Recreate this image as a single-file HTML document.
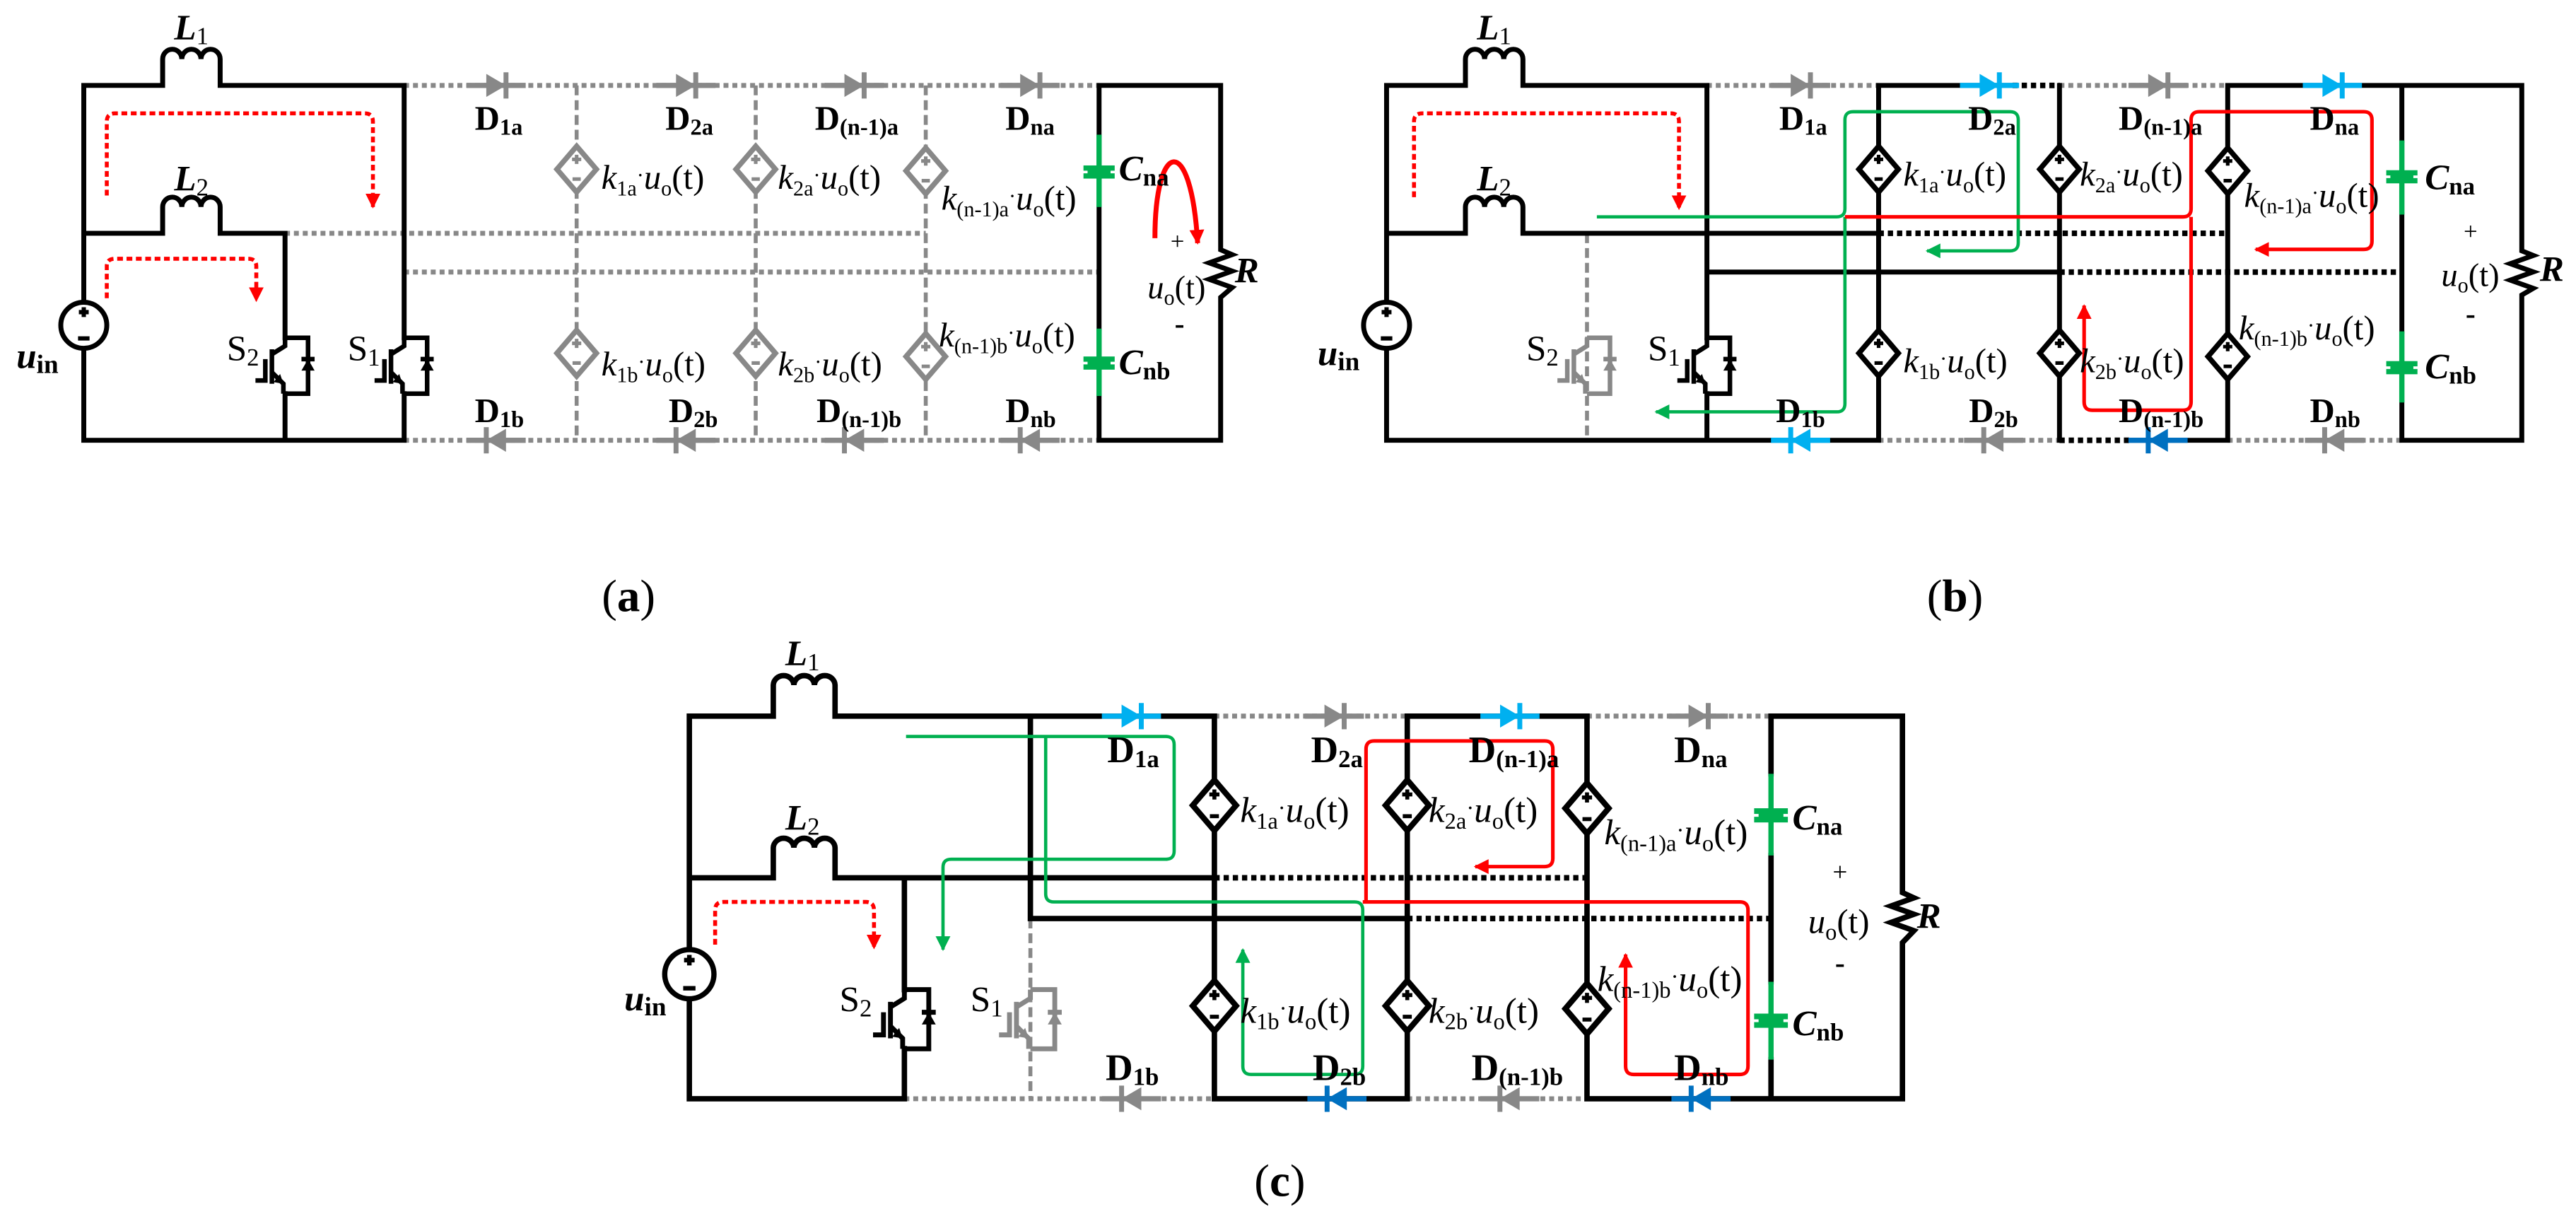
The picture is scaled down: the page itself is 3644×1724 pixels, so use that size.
<!DOCTYPE html>
<html><head><meta charset="utf-8">
<style>
html,body{margin:0;padding:0;background:#fff;}
svg{display:block;}
.w{stroke:#000;stroke-width:3;fill:none;stroke-linecap:square;}
.g{stroke:#00b050;stroke-width:3.2;fill:none;}
.gd{stroke:#888;stroke-width:3;fill:none;stroke-dasharray:3 2.4;}
.bd{stroke:#000;stroke-width:3.4;fill:none;stroke-dasharray:3.2 2.4;}
.gv{stroke:#888;stroke-width:2.4;fill:none;stroke-dasharray:6 3;}
.rd{stroke:#f00;stroke-width:2.4;fill:none;stroke-dasharray:3.5 2.2;}
.gp{stroke:#00b050;stroke-width:2;fill:none;}
.rp{stroke:#f00;stroke-width:2.2;fill:none;}
text{font-family:"Liberation Serif",serif;fill:#000;}
.d{font-weight:bold;font-size:21px;}
.dc{font-weight:bold;font-size:23px;}
.k{font-size:21px;}
.kc{font-size:22px;}
.bi{font-weight:bold;font-style:italic;font-size:22px;}
.s{font-size:22px;}
.cap{font-size:28px;}
</style></head>
<body>
<svg width="3644" height="1724" viewBox="0 0 1568 742" preserveAspectRatio="none" xmlns="http://www.w3.org/2000/svg">
<defs>
<g id="dr"><path d="M-18,0H18" stroke="currentColor" stroke-width="3.2"/><path d="M-6,-7L6,0L-6,7Z" fill="currentColor"/><path d="M6,-8V8" stroke="currentColor" stroke-width="3"/></g>
<g id="dl"><path d="M-18,0H18" stroke="currentColor" stroke-width="3.2"/><path d="M6,-7L-6,0L6,7Z" fill="currentColor"/><path d="M-6,-8V8" stroke="currentColor" stroke-width="3"/></g>
<g id="dm"><path d="M0,-14L12,0L0,14L-12,0Z" fill="#fff" stroke="currentColor" stroke-width="3.2"/><path d="M-2.8,-6H2.8M0,-8.8V-3.2M-2.5,6H2.5" stroke="currentColor" stroke-width="2.2"/></g>
<g id="sw"><g fill="none" stroke="currentColor" stroke-width="2.8"><path d="M0,-17V-12L-8,-7"/><path d="M-8,-10V11"/><path d="M-12,-4V9H-18"/><path d="M-8,4L-1,11V17"/><path d="M0,-17H14V17H0"/><path d="M10,-4H18"/></g><path d="M14,-4L10,3H18Z" fill="currentColor"/><path d="M-1,11L-7,10L-3,5Z" fill="currentColor"/></g>
<g id="src"><circle r="14" fill="#fff" stroke="#000" stroke-width="3"/><path d="M0,-11V-5M-3,-8H3M-3.5,8H3.5" stroke="#000" stroke-width="2.6"/></g>
<g id="cp"><rect x="-9.5" y="-4" width="19" height="3.2" fill="#00b050"/><rect x="-9.5" y="0.8" width="19" height="3.2" fill="#00b050"/><rect x="-7" y="-2" width="14" height="4" fill="#00b050"/></g>
<marker id="ar" viewBox="0 0 10 10" refX="9" refY="5" markerWidth="9" markerHeight="9" markerUnits="userSpaceOnUse" orient="auto"><path d="M0,0L10,5L0,10z" fill="#f00"/></marker>
<marker id="ag" viewBox="0 0 10 10" refX="9" refY="5" markerWidth="9" markerHeight="9" markerUnits="userSpaceOnUse" orient="auto"><path d="M0,0L10,5L0,10z" fill="#00b050"/></marker>
</defs>

<!-- ============ PANEL A ============ -->
<path class="gd" d="M246,52H669M173.5,142H563.5M246,165.6H669M246,268H669"/>
<path class="gv" d="M351,52V268M460,52V268M563.5,52V268"/>
<path class="w" d="M51,52H99V36a5.83,6 0 0 1 11.67,0a5.83,6 0 0 1 11.67,0a5.83,6 0 0 1 11.67,0V52H246M51,52V268H246M51,142H99V126a5.83,6 0 0 1 11.67,0a5.83,6 0 0 1 11.67,0a5.83,6 0 0 1 11.67,0V142H173.5M173.5,142V205.6M173.5,239.6V268M246,52V205.6M246,239.6V268M669,52H743V152L750,155L736,160L750,165L736,170L750,175L743,181V268H669M669,52V82M669,126V200M669,241V268"/>
<path class="g" d="M669,82V126M669,200V241"/>
<use href="#cp" x="669" y="104.7"/><use href="#cp" x="669" y="221"/>
<g color="#888"><use href="#dr" x="302" y="52"/><use href="#dr" x="417.5" y="52"/><use href="#dr" x="520" y="52"/><use href="#dr" x="627" y="52"/>
<use href="#dl" x="302" y="268"/><use href="#dl" x="417.5" y="268"/><use href="#dl" x="520" y="268"/><use href="#dl" x="627" y="268"/></g>
<g color="#888"><use href="#dm" x="351" y="103"/><use href="#dm" x="460" y="103"/><use href="#dm" x="563.5" y="104"/>
<use href="#dm" x="351" y="215"/><use href="#dm" x="460" y="215"/><use href="#dm" x="563.5" y="217"/></g>
<g color="#000"><use href="#sw" x="173.5" y="222.6"/><use href="#sw" x="246" y="222.6"/></g>
<use href="#src" x="51" y="198"/>
<path class="rd" d="M65,119V74Q65,69 70,69H222Q227,69 227,74V126" marker-end="url(#ar)"/>
<path class="rd" d="M65,181.5V162Q65,157.5 70,157.5H151Q156,157.5 156,162V183" marker-end="url(#ar)"/>
<path d="M703,145C703,85 725,80 729,148" stroke="#f00" stroke-width="3" fill="none" marker-end="url(#ar)"/>
<text class="bi" x="106" y="24">L<tspan font-size="15" font-style="normal" font-weight="normal" dy="3">1</tspan></text>
<text class="bi" x="106" y="116">L<tspan font-size="15" font-style="normal" font-weight="normal" dy="3">2</tspan></text>
<text class="bi" x="10" y="224" font-size="26">u<tspan font-size="16" font-style="normal" dy="3">in</tspan></text>
<text class="s" x="138" y="219.5">S<tspan font-size="15" dy="3">2</tspan></text>
<text class="s" x="211.6" y="219.5">S<tspan font-size="15" dy="3">1</tspan></text>
<text class="d" x="289" y="79">D<tspan font-size="14" dy="3">1a</tspan></text>
<text class="d" x="405" y="79">D<tspan font-size="14" dy="3">2a</tspan></text>
<text class="d" x="496" y="79">D<tspan font-size="14" dy="3">(n-1)a</tspan></text>
<text class="d" x="612" y="79">D<tspan font-size="14" dy="3">na</tspan></text>
<text class="d" x="289" y="257">D<tspan font-size="14" dy="3">1b</tspan></text>
<text class="d" x="407" y="257">D<tspan font-size="14" dy="3">2b</tspan></text>
<text class="d" x="497" y="257">D<tspan font-size="14" dy="3">(n-1)b</tspan></text>
<text class="d" x="612" y="257">D<tspan font-size="14" dy="3">nb</tspan></text>
<text class="k" x="366" y="115"><tspan font-style="italic">k</tspan><tspan font-size="13" dy="4">1a</tspan><tspan font-size="13" dy="-8">·</tspan><tspan font-style="italic" dy="4">u</tspan><tspan font-size="13" dy="4">o</tspan><tspan dy="-4">(t)</tspan></text>
<text class="k" x="473.5" y="115"><tspan font-style="italic">k</tspan><tspan font-size="13" dy="4">2a</tspan><tspan font-size="13" dy="-8">·</tspan><tspan font-style="italic" dy="4">u</tspan><tspan font-size="13" dy="4">o</tspan><tspan dy="-4">(t)</tspan></text>
<text class="k" x="573" y="127.7"><tspan font-style="italic">k</tspan><tspan font-size="13" dy="4">(n-1)a</tspan><tspan font-size="13" dy="-8">·</tspan><tspan font-style="italic" dy="4">u</tspan><tspan font-size="13" dy="4">o</tspan><tspan dy="-4">(t)</tspan></text>
<text class="k" x="366" y="228.6"><tspan font-style="italic">k</tspan><tspan font-size="13" dy="4">1b</tspan><tspan font-size="13" dy="-8">·</tspan><tspan font-style="italic" dy="4">u</tspan><tspan font-size="13" dy="4">o</tspan><tspan dy="-4">(t)</tspan></text>
<text class="k" x="473.5" y="228.6"><tspan font-style="italic">k</tspan><tspan font-size="13" dy="4">2b</tspan><tspan font-size="13" dy="-8">·</tspan><tspan font-style="italic" dy="4">u</tspan><tspan font-size="13" dy="4">o</tspan><tspan dy="-4">(t)</tspan></text>
<text class="k" x="571.5" y="211"><tspan font-style="italic">k</tspan><tspan font-size="13" dy="4">(n-1)b</tspan><tspan font-size="13" dy="-8">·</tspan><tspan font-style="italic" dy="4">u</tspan><tspan font-size="13" dy="4">o</tspan><tspan dy="-4">(t)</tspan></text>
<text class="bi" x="681" y="110">C<tspan font-size="15" font-style="normal" dy="3">na</tspan></text>
<text class="bi" x="681" y="228">C<tspan font-size="15" font-style="normal" dy="3">nb</tspan></text>
<text x="716.7" y="152" font-size="15" text-anchor="middle">+</text>
<text x="698.5" y="181.6" font-size="20"><tspan font-style="italic">u</tspan><tspan font-size="13" dy="4">o</tspan><tspan dy="-4">(t)</tspan></text>
<text x="718" y="203" font-size="18" font-weight="bold" text-anchor="middle">-</text>
<text class="bi" x="751.6" y="172">R</text>
<text class="cap" x="382.6" y="372" text-anchor="middle">(<tspan font-weight="bold">a</tspan>)</text>

<!-- ============ PANEL B ============ -->
<path class="gd" d="M1039,52H1143.5M1253.6,52H1356M1143.5,268H1253.6M1356,268H1462"/>
<path class="bd" d="M1225,52H1253.6M1143.5,142H1356M1253.6,165.6H1462M1253.6,268H1296"/>
<path class="gv" d="M966,142V268"/>
<path class="w" d="M844,52H892V36a5.83,6 0 0 1 11.67,0a5.83,6 0 0 1 11.67,0a5.83,6 0 0 1 11.67,0V52H1039M1143.5,52H1225M1356,52H1535V152.7L1542,155.5L1528,160.5L1542,165.5L1528,170.5L1542,175.5L1535,179.6V268H1462M844,52V268H1143.5M844,142H892V126a5.83,6 0 0 1 11.67,0a5.83,6 0 0 1 11.67,0a5.83,6 0 0 1 11.67,0V142H1143.5M1039,165.6H1253.6M1296,268H1356M1039,52V205.6M1039,239.6V268M1143.5,52V268M1253.6,52V268M1356,52V268M1462,52V85.5M1462,130.6V201.7M1462,245V268"/>
<path class="g" d="M1462,85.5V130.6M1462,201.7V245"/>
<use href="#cp" x="1462" y="107.6"/><use href="#cp" x="1462" y="223.8"/>
<use href="#dr" x="1096" y="52" color="#888"/><use href="#dr" x="1211" y="52" color="#00b0f0"/><use href="#dr" x="1313.6" y="52" color="#888"/><use href="#dr" x="1419.7" y="52" color="#00b0f0"/>
<use href="#dl" x="1096" y="268" color="#00b0f0"/><use href="#dl" x="1213.5" y="268" color="#888"/><use href="#dl" x="1313.6" y="268" color="#0070c0"/><use href="#dl" x="1421" y="268" color="#888"/>
<g color="#000"><use href="#dm" x="1143.5" y="103"/><use href="#dm" x="1253.6" y="103"/><use href="#dm" x="1356" y="104"/>
<use href="#dm" x="1143.5" y="215"/><use href="#dm" x="1253.6" y="215"/><use href="#dm" x="1356" y="217"/>
<use href="#sw" x="1039" y="222.6"/></g>
<use href="#sw" x="966" y="222.6" color="#888"/>
<use href="#src" x="844" y="198"/>
<path class="rd" d="M860.7,120V74Q860.7,69 865.7,69H1017Q1022,69 1022,74V127" marker-end="url(#ar)"/>
<path class="gp" d="M972,132H1118Q1123,132 1123,127V73Q1123,68 1128,68H1223.5Q1228.5,68 1228.5,73V147.7Q1228.5,152.7 1223.5,152.7H1173" marker-end="url(#ag)"/>
<path class="gp" d="M1123,132V245.7Q1123,250.7 1118,250.7H1008" marker-end="url(#ag)"/>
<path class="rp" d="M1123,132H1328.7Q1333.7,132 1333.7,127V73Q1333.7,68 1338.7,68H1438.8Q1443.8,68 1443.8,73V146.8Q1443.8,151.8 1438.8,151.8H1373" marker-end="url(#ar)"/>
<path class="rp" d="M1333.7,132V244.7Q1333.7,249.7 1328.7,249.7H1273.6Q1268.6,249.7 1268.6,244.7V186" marker-end="url(#ar)"/>
<text class="bi" x="899" y="24">L<tspan font-size="15" font-style="normal" font-weight="normal" dy="3">1</tspan></text>
<text class="bi" x="899" y="116">L<tspan font-size="15" font-style="normal" font-weight="normal" dy="3">2</tspan></text>
<text class="bi" x="802" y="222.3" font-size="26">u<tspan font-size="16" font-style="normal" dy="3">in</tspan></text>
<text class="s" x="929" y="219.5">S<tspan font-size="15" dy="3">2</tspan></text>
<text class="s" x="1003" y="219.5">S<tspan font-size="15" dy="3">1</tspan></text>
<text class="d" x="1083" y="79">D<tspan font-size="14" dy="3">1a</tspan></text>
<text class="d" x="1198" y="79">D<tspan font-size="14" dy="3">2a</tspan></text>
<text class="d" x="1289.6" y="79">D<tspan font-size="14" dy="3">(n-1)a</tspan></text>
<text class="d" x="1406" y="79">D<tspan font-size="14" dy="3">na</tspan></text>
<text class="d" x="1081" y="257">D<tspan font-size="14" dy="3">1b</tspan></text>
<text class="d" x="1198.5" y="257">D<tspan font-size="14" dy="3">2b</tspan></text>
<text class="d" x="1289.6" y="257">D<tspan font-size="14" dy="3">(n-1)b</tspan></text>
<text class="d" x="1406" y="257">D<tspan font-size="14" dy="3">nb</tspan></text>
<text class="k" x="1158.5" y="113"><tspan font-style="italic">k</tspan><tspan font-size="13" dy="4">1a</tspan><tspan font-size="13" dy="-8">·</tspan><tspan font-style="italic" dy="4">u</tspan><tspan font-size="13" dy="4">o</tspan><tspan dy="-4">(t)</tspan></text>
<text class="k" x="1266" y="113"><tspan font-style="italic">k</tspan><tspan font-size="13" dy="4">2a</tspan><tspan font-size="13" dy="-8">·</tspan><tspan font-style="italic" dy="4">u</tspan><tspan font-size="13" dy="4">o</tspan><tspan dy="-4">(t)</tspan></text>
<text class="k" x="1366" y="125.8"><tspan font-style="italic">k</tspan><tspan font-size="13" dy="4">(n-1)a</tspan><tspan font-size="13" dy="-8">·</tspan><tspan font-style="italic" dy="4">u</tspan><tspan font-size="13" dy="4">o</tspan><tspan dy="-4">(t)</tspan></text>
<text class="k" x="1158.5" y="226.7"><tspan font-style="italic">k</tspan><tspan font-size="13" dy="4">1b</tspan><tspan font-size="13" dy="-8">·</tspan><tspan font-style="italic" dy="4">u</tspan><tspan font-size="13" dy="4">o</tspan><tspan dy="-4">(t)</tspan></text>
<text class="k" x="1266" y="226.7"><tspan font-style="italic">k</tspan><tspan font-size="13" dy="4">2b</tspan><tspan font-size="13" dy="-8">·</tspan><tspan font-style="italic" dy="4">u</tspan><tspan font-size="13" dy="4">o</tspan><tspan dy="-4">(t)</tspan></text>
<text class="k" x="1362.7" y="206.5"><tspan font-style="italic">k</tspan><tspan font-size="13" dy="4">(n-1)b</tspan><tspan font-size="13" dy="-8">·</tspan><tspan font-style="italic" dy="4">u</tspan><tspan font-size="13" dy="4">o</tspan><tspan dy="-4">(t)</tspan></text>
<text class="bi" x="1476" y="115.3">C<tspan font-size="15" font-style="normal" dy="3">na</tspan></text>
<text class="bi" x="1476" y="230.5">C<tspan font-size="15" font-style="normal" dy="3">nb</tspan></text>
<text x="1503.8" y="146" font-size="15" text-anchor="middle">+</text>
<text x="1486" y="174" font-size="20"><tspan font-style="italic">u</tspan><tspan font-size="13" dy="4">o</tspan><tspan dy="-4">(t)</tspan></text>
<text x="1503.8" y="197" font-size="18" font-weight="bold" text-anchor="middle">-</text>
<text class="bi" x="1546" y="171">R</text>
<text class="cap" x="1190" y="372" text-anchor="middle">(<tspan font-weight="bold">b</tspan>)</text>

<!-- ============ PANEL C ============ -->
<path class="gd" d="M739.2,435.9H856.6M966,435.9H1078M550.5,668.8H739.2M856.6,668.8H966"/>
<path class="bd" d="M739.2,534.3H966M856.6,559.1H1078"/>
<path class="gv" d="M627.2,559.1V668.8"/>
<path class="w" style="stroke-width:3.3" d="M419.6,435.9H470.7V417a6.27,6 0 0 1 12.53,0a6.27,6 0 0 1 12.53,0a6.27,6 0 0 1 12.53,0V435.9H739.2M856.6,435.9H966M1078,435.9H1158V543.3L1165,546.5L1151,551.5L1165,556.5L1151,561.5L1165,566.5L1158,573.8V668.8H966M856.6,668.8H739.2M419.6,435.9V668.8H550.5M419.6,534.3H470.7V516a6.27,6 0 0 1 12.53,0a6.27,6 0 0 1 12.53,0a6.27,6 0 0 1 12.53,0V534.3H739.2M627.2,559.1H856.6M550.5,534.3V602.4M550.5,638.3V668.8M627.2,435.9V559.1M739.2,435.9V668.8M856.6,435.9V668.8M966,435.9V668.8M1078,435.9V471M1078,520.7V597.6M1078,645V668.8"/>
<path class="g" d="M1078,471V520.7M1078,597.6V645"/>
<use href="#cp" transform="translate(1078,496.3) scale(1.08)"/><use href="#cp" transform="translate(1078,621.3) scale(1.08)"/>
<use href="#dr" x="688.7" y="435.9" color="#00b0f0"/><use href="#dr" x="812.2" y="435.9" color="#888"/><use href="#dr" x="919.1" y="435.9" color="#00b0f0"/><use href="#dr" x="1033.8" y="435.9" color="#888"/>
<use href="#dl" x="688.7" y="668.8" color="#888"/><use href="#dl" x="813.8" y="668.8" color="#0070c0"/><use href="#dl" x="919" y="668.8" color="#888"/><use href="#dl" x="1035.4" y="668.8" color="#0070c0"/>
<g color="#000"><use href="#dm" transform="translate(739.2,490.2) scale(1.1)"/><use href="#dm" transform="translate(856.6,490.2) scale(1.1)"/><use href="#dm" transform="translate(966,492) scale(1.1)"/>
<use href="#dm" transform="translate(739.2,612.3) scale(1.1)"/><use href="#dm" transform="translate(856.6,612.3) scale(1.1)"/><use href="#dm" transform="translate(966,614) scale(1.1)"/>
<use href="#sw" transform="translate(550.5,620.4) scale(1.06)"/></g>
<use href="#sw" transform="translate(627.2,620.4) scale(1.06)" color="#888"/>
<use href="#src" transform="translate(419.6,593) scale(1.07)"/>
<path class="rd" d="M435.3,575V554Q435.3,549 440.3,549H527Q532,549 532,554V577" marker-end="url(#ar)"/>
<path class="gp" d="M551.5,448.3H709.7Q714.7,448.3 714.7,453.3V518Q714.7,523 709.7,523H579Q574,523 574,528V578" marker-end="url(#ag)"/>
<path class="gp" d="M636.5,448.3V544Q636.5,549 641.5,549H824.5Q829.5,549 829.5,554V649Q829.5,654 824.5,654H761.5Q756.5,654 756.5,649V578" marker-end="url(#ag)"/>
<path class="rp" d="M829.5,549H1059Q1064,549 1064,554V649Q1064,654 1059,654H994.5Q989.5,654 989.5,649V581" marker-end="url(#ar)"/>
<path class="rp" d="M831.5,549V456Q831.5,451 836.5,451H940.2Q945.2,451 945.2,456V522.5Q945.2,527.5 940.2,527.5H898" marker-end="url(#ar)"/>
<text class="bi" x="478" y="405">L<tspan font-size="15" font-style="normal" font-weight="normal" dy="3">1</tspan></text>
<text class="bi" x="478" y="505">L<tspan font-size="15" font-style="normal" font-weight="normal" dy="3">2</tspan></text>
<text class="bi" x="380" y="615" font-size="27">u<tspan font-size="16" font-style="normal" dy="3">in</tspan></text>
<text class="s" x="511" y="615.7">S<tspan font-size="15" dy="3">2</tspan></text>
<text class="s" x="590.7" y="615.7">S<tspan font-size="15" dy="3">1</tspan></text>
<text class="dc" x="674" y="464">D<tspan font-size="15" dy="3">1a</tspan></text>
<text class="dc" x="798" y="464">D<tspan font-size="15" dy="3">2a</tspan></text>
<text class="dc" x="894" y="464">D<tspan font-size="15" dy="3">(n-1)a</tspan></text>
<text class="dc" x="1019" y="464">D<tspan font-size="15" dy="3">na</tspan></text>
<text class="dc" x="673" y="657.5">D<tspan font-size="15" dy="3">1b</tspan></text>
<text class="dc" x="799" y="657.5">D<tspan font-size="15" dy="3">2b</tspan></text>
<text class="dc" x="895.7" y="657.5">D<tspan font-size="15" dy="3">(n-1)b</tspan></text>
<text class="dc" x="1019" y="657.5">D<tspan font-size="15" dy="3">nb</tspan></text>
<text class="kc" x="754.9" y="500.4"><tspan font-style="italic">k</tspan><tspan font-size="14" dy="4">1a</tspan><tspan font-size="14" dy="-8">·</tspan><tspan font-style="italic" dy="4">u</tspan><tspan font-size="14" dy="4">o</tspan><tspan dy="-4">(t)</tspan></text>
<text class="kc" x="869.6" y="500.4"><tspan font-style="italic">k</tspan><tspan font-size="14" dy="4">2a</tspan><tspan font-size="14" dy="-8">·</tspan><tspan font-style="italic" dy="4">u</tspan><tspan font-size="14" dy="4">o</tspan><tspan dy="-4">(t)</tspan></text>
<text class="kc" x="976.5" y="514"><tspan font-style="italic">k</tspan><tspan font-size="14" dy="4">(n-1)a</tspan><tspan font-size="14" dy="-8">·</tspan><tspan font-style="italic" dy="4">u</tspan><tspan font-size="14" dy="4">o</tspan><tspan dy="-4">(t)</tspan></text>
<text class="kc" x="754.9" y="622.5"><tspan font-style="italic">k</tspan><tspan font-size="14" dy="4">1b</tspan><tspan font-size="14" dy="-8">·</tspan><tspan font-style="italic" dy="4">u</tspan><tspan font-size="14" dy="4">o</tspan><tspan dy="-4">(t)</tspan></text>
<text class="kc" x="869.6" y="622.5"><tspan font-style="italic">k</tspan><tspan font-size="14" dy="4">2b</tspan><tspan font-size="14" dy="-8">·</tspan><tspan font-style="italic" dy="4">u</tspan><tspan font-size="14" dy="4">o</tspan><tspan dy="-4">(t)</tspan></text>
<text class="kc" x="972.3" y="603.2"><tspan font-style="italic">k</tspan><tspan font-size="14" dy="4">(n-1)b</tspan><tspan font-size="14" dy="-8">·</tspan><tspan font-style="italic" dy="4">u</tspan><tspan font-size="14" dy="4">o</tspan><tspan dy="-4">(t)</tspan></text>
<text class="bi" x="1091" y="505" font-size="23">C<tspan font-size="15" font-style="normal" dy="3">na</tspan></text>
<text class="bi" x="1091" y="630.4" font-size="23">C<tspan font-size="15" font-style="normal" dy="3">nb</tspan></text>
<text x="1120" y="536" font-size="16" text-anchor="middle">+</text>
<text x="1100.6" y="568" font-size="21"><tspan font-style="italic">u</tspan><tspan font-size="14" dy="4">o</tspan><tspan dy="-4">(t)</tspan></text>
<text x="1120" y="592" font-size="18" font-weight="bold" text-anchor="middle">-</text>
<text class="bi" x="1166.8" y="565" font-size="23">R</text>
<text class="cap" x="779" y="728" text-anchor="middle">(<tspan font-weight="bold">c</tspan>)</text>
</svg>
</body></html>
